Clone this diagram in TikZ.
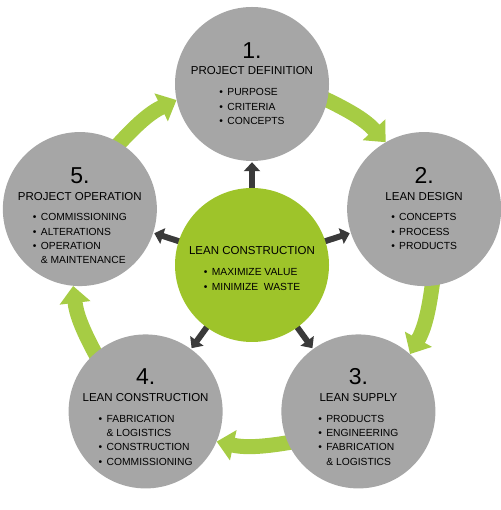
\documentclass[tikz,border=0pt]{standalone}
\usepackage{fontspec}
\setmainfont{Liberation Sans}
\usetikzlibrary{arrows.meta, calc, backgrounds}

\definecolor{stagegray}{RGB}{166,166,166}
\definecolor{leangreen}{RGB}{158,196,42}
\definecolor{cyclegreen}{RGB}{166,204,68}
\definecolor{spokedark}{RGB}{58,58,58}

\newcommand{\bul}{\makebox[8pt][l]{\textbullet}}
\newcommand{\cont}{\hspace*{8pt}}

\begin{document}
\begin{tikzpicture}[x=1pt, y=1pt,
    stage/.style={circle, fill=stagegray, minimum size=154pt, inner sep=0pt},
    hub/.style={circle, fill=leangreen, minimum size=154pt, inner sep=0pt},
    stage num/.style={anchor=base, inner sep=0pt, font=\fontsize{23}{23}\selectfont},
    stage title/.style={anchor=base, inner sep=0pt, font=\fontsize{11.5}{13}\selectfont},
    stage list/.style={anchor=north, inner sep=0pt, align=left, font=\fontsize{10.3}{14.4}\selectfont},
    spoke/.style={-{Triangle[width=16pt,length=9pt]}, line width=6pt, spokedark, shorten <=-6pt, shorten >=1pt},
    cycle flow/.style={-{Triangle[width=30pt,length=17pt]}, line width=15pt, cyclegreen, shorten <=-12pt}]

    \useasboundingbox (0,0) rectangle (500,510);

    % Centre and the five stages
    \node[hub] (hub) at (252,245) {};
    \node[stage] (s1) at ($(hub)+(90:181)$) {};
    \node[stage] (s2) at ($(hub)+(18:181)$) {};
    \node[stage] (s3) at ($(hub)+(-54:181)$) {};
    \node[stage] (s4) at ($(hub)+(-126:181)$) {};
    \node[stage] (s5) at ($(hub)+(162:181)$) {};

    % Centre text
    \node[stage title] (hub-title) at ($(hub)+(0,10)$) {LEAN CONSTRUCTION};
    \node[stage list] (hub-list) at ($(hub)+(0,-3.5)$) {\bul MAXIMIZE VALUE\\ \bul MINIMIZE\ \ WASTE};

    % Stage 1
    \node[stage num] (s1-num) at ($(s1)+(0,25.5)$) {1.};
    \node[stage title] (s1-title) at ($(s1)+(0,9)$) {PROJECT DEFINITION};
    \node[stage list] (s1-list) at ($(s1)+(0,-4.3)$) {\bul PURPOSE\\ \bul CRITERIA\\ \bul CONCEPTS};

    % Stage 2
    \node[stage num] (s2-num) at ($(s2)+(0,25.5)$) {2.};
    \node[stage title] (s2-title) at ($(s2)+(0,9)$) {LEAN DESIGN};
    \node[stage list] (s2-list) at ($(s2)+(0,-4.3)$) {\bul CONCEPTS\\ \bul PROCESS\\ \bul PRODUCTS};

    % Stage 3
    \node[stage num] (s3-num) at ($(s3)+(0,27)$) {3.};
    \node[stage title] (s3-title) at ($(s3)+(0,10)$) {LEAN SUPPLY};
    \node[stage list] (s3-list) at ($(s3)+(0,-3.3)$) {\bul PRODUCTS\\ \bul ENGINEERING\\ \bul FABRICATION\\ \cont\& LOGISTICS};

    % Stage 4
    \node[stage num] (s4-num) at ($(s4)+(0,27)$) {4.};
    \node[stage title] (s4-title) at ($(s4)+(0,10)$) {LEAN CONSTRUCTION};
    \node[stage list] (s4-list) at ($(s4)+(0,-3.3)$) {\bul FABRICATION\\ \cont\& LOGISTICS\\ \bul CONSTRUCTION\\ \bul COMMISSIONING};

    % Stage 5
    \node[stage num] (s5-num) at ($(s5)+(0,25.5)$) {5.};
    \node[stage title] (s5-title) at ($(s5)+(0,9)$) {PROJECT OPERATION};
    \node[stage list] (s5-list) at ($(s5)+(0,-4.3)$) {\bul COMMISSIONING\\ \bul ALTERATIONS\\ \bul OPERATION\\ \cont\& MAINTENANCE};

    % Connectors behind the circles
    \begin{scope}[on background layer]
        \draw[cycle flow] (s1.-12.3) to[bend left=11.4] (s2.120.3);
        \draw[cycle flow] (s2.-84.3) to[bend left=11.4] (s3.48.3);
        \draw[cycle flow] (s3.-156.3) to[bend left=11.4] (s4.-23.7);
        \draw[cycle flow] (s4.131.7) to[bend left=11.4] (s5.-95.7);
        \draw[cycle flow] (s5.59.7) to[bend left=11.4] (s1.192.3);

        \draw[spoke] (hub) -- (s1);
        \draw[spoke] (hub) -- (s2);
        \draw[spoke] (hub) -- (s3);
        \draw[spoke] (hub) -- (s4);
        \draw[spoke] (hub) -- (s5);
    \end{scope}
\end{tikzpicture}
\end{document}
